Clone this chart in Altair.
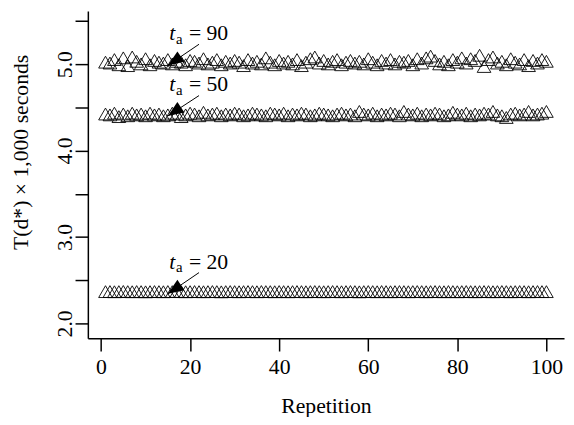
import altair as alt
import pandas as pd

repetition = list(range(1, 101))

s90 = [5.00, 4.99, 5.03, 4.97, 5.05, 4.96, 5.06, 5.01, 4.98, 5.04,
       4.97, 5.02, 5.00, 4.99, 5.03, 4.98, 5.01, 5.00, 4.97, 5.02,
       5.01, 4.99, 5.04, 4.98, 5.00, 5.03, 4.97, 5.01, 4.99, 5.02,
       5.00, 4.96, 5.03, 4.99, 5.01, 4.98, 5.05, 5.00, 4.97, 5.02,
       4.99, 5.01, 4.98, 5.03, 4.96, 5.00, 5.04, 5.06, 4.99, 5.02,
       4.98, 5.01, 5.03, 4.97, 5.00, 5.02, 4.99, 5.01, 4.98, 5.04,
       5.00, 4.97, 5.02, 4.99, 5.03, 4.98, 5.01, 5.00, 5.02, 4.97,
       5.04, 4.99, 5.05, 5.07, 5.02, 4.98, 5.01, 4.97, 5.03, 5.00,
       5.05, 4.99, 5.04, 5.02, 5.08, 4.95, 5.03, 5.06, 4.99, 5.01,
       4.97, 5.04, 5.00, 4.98, 5.03, 4.96, 5.02, 4.99, 5.03, 5.01]

s50 = [4.40, 4.39, 4.41, 4.37, 4.40, 4.38, 4.41, 4.39, 4.40, 4.38,
       4.41, 4.39, 4.40, 4.38, 4.39, 4.41, 4.40, 4.37, 4.39, 4.41,
       4.40, 4.38, 4.42, 4.39, 4.40, 4.41, 4.38, 4.40, 4.39, 4.41,
       4.40, 4.38, 4.39, 4.41, 4.40, 4.39, 4.38, 4.41, 4.40, 4.39,
       4.41, 4.38, 4.40, 4.39, 4.41, 4.40, 4.38, 4.39, 4.41, 4.40,
       4.39, 4.38, 4.40, 4.41, 4.39, 4.40, 4.38, 4.43, 4.40, 4.39,
       4.41, 4.38, 4.40, 4.39, 4.41, 4.40, 4.38, 4.43, 4.40, 4.39,
       4.41, 4.38, 4.40, 4.39, 4.41, 4.40, 4.38, 4.39, 4.42, 4.40,
       4.39, 4.41, 4.38, 4.40, 4.39, 4.41, 4.40, 4.43, 4.39, 4.38,
       4.36, 4.40, 4.41, 4.39, 4.40, 4.43, 4.39, 4.40, 4.41, 4.43]

s20 = [2.345, 2.346, 2.344, 2.345, 2.347, 2.345, 2.344, 2.346, 2.345, 2.343,
       2.345, 2.346, 2.345, 2.344, 2.346, 2.345, 2.347, 2.345, 2.344, 2.345,
       2.346, 2.345, 2.344, 2.345, 2.346, 2.345, 2.343, 2.345, 2.346, 2.345,
       2.344, 2.345, 2.346, 2.345, 2.344, 2.346, 2.345, 2.345, 2.344, 2.346,
       2.345, 2.344, 2.345, 2.346, 2.345, 2.344, 2.345, 2.346, 2.345, 2.344,
       2.345, 2.346, 2.345, 2.344, 2.345, 2.346, 2.345, 2.343, 2.345, 2.346,
       2.345, 2.344, 2.346, 2.345, 2.344, 2.345, 2.346, 2.345, 2.344, 2.345,
       2.346, 2.345, 2.344, 2.345, 2.346, 2.345, 2.344, 2.346, 2.345, 2.344,
       2.345, 2.346, 2.345, 2.344, 2.345, 2.346, 2.345, 2.344, 2.345, 2.346,
       2.345, 2.344, 2.345, 2.346, 2.345, 2.344, 2.345, 2.346, 2.345, 2.345]

# annotations
ann_values = ["90", "50", "20"]
ann_text_x = [15.3, 15.3, 15.3]
ann_text_y = [5.28, 4.685, 2.635]
arrow_x0 = [22.0, 22.0, 22.0]
arrow_y0 = [5.23, 4.636, 2.588]
arrow_x1 = [15.0, 15.0, 15.0]
arrow_y1 = [4.985, 4.40, 2.342]

y_ticks = [2.0, 2.5, 3.0, 3.5, 4.0, 4.5, 5.0, 5.5]
x_ticks = [0, 20, 40, 60, 80, 100]

rows = []
for s, vals in (("90", s90), ("50", s50), ("20", s20)):
    for r, v in zip(repetition, vals):
        rows.append({"rep": r, "T": v, "ta": s})
df = pd.DataFrame(rows)

ann = pd.DataFrame({
    "ta": ann_values,
    "tx": ann_text_x, "ty": ann_text_y,
    "x0": arrow_x0, "y0": arrow_y0, "x1": arrow_x1, "y1": arrow_y1,
})
ann["rest"] = "= " + ann["ta"]

FONT = "Liberation Serif"
xs = alt.Scale(domain=[-2.96, 103.96], nice=False, zero=False)
ys = alt.Scale(domain=[1.829, 5.616], nice=False, zero=False)

tri = "M0,-1L0.866,0.5L-0.866,0.5Z"

points = alt.Chart(df).mark_point(
    shape=tri, size=256, filled=False, stroke="black", strokeWidth=0.9, opacity=1
).encode(
    x=alt.X("rep:Q", scale=xs, axis=alt.Axis(
        values=x_ticks, title="Repetition", grid=False, tickSize=13,
        labelPadding=6, titlePadding=18, format="d")),
    y=alt.Y("T:Q", scale=ys, axis=alt.Axis(
        values=y_ticks, grid=False, tickSize=13,
        labelExpr="datum.value % 1 == 0 ? format(datum.value, '.1f') : ''",
        labelAngle=270, labelAlign="center", labelBaseline="alphabetic", labelPadding=4,
        title="T(d*) × 1,000 seconds", titleAngle=270, titleBaseline="alphabetic",
        titleX=-61, titleY=143, titleAlign="center")),
)

rules = alt.Chart(ann).mark_rule(color="black", strokeWidth=1).encode(
    x="x0:Q", y="y0:Q", x2="x1:Q", y2="y1:Q")

heads = alt.Chart(ann).mark_point(
    shape="M0,0L0.8,2L-0.8,2Z", size=256, filled=True, color="black",
    opacity=1, angle=236, strokeWidth=0
).encode(x="x1:Q", y="y1:Q")

t_txt = alt.Chart(ann).mark_text(
    text="t", font=FONT, fontSize=22, fontStyle="italic", align="left",
    baseline="alphabetic", color="black"
).encode(x="tx:Q", y="ty:Q")

a_txt = alt.Chart(ann).mark_text(
    text="a", font=FONT, fontSize=15, align="left", baseline="alphabetic",
    dx=7, dy=4, color="black"
).encode(x="tx:Q", y="ty:Q")

rest_txt = alt.Chart(ann).mark_text(
    font=FONT, fontSize=22, align="left", baseline="alphabetic",
    dx=20, color="black"
).encode(x="tx:Q", y="ty:Q", text="rest:N")

chart = alt.layer(points, rules, heads, t_txt, a_txt, rest_txt).properties(
    width=483, height=332,
    autosize=alt.AutoSizeParams(type="none"),
    padding={"left": 81, "top": 0, "right": 2, "bottom": 77},
).configure_view(stroke=None).configure_axis(
    domainColor="black", domainWidth=1.5, tickColor="black", tickWidth=1.5,
    labelFont=FONT, labelFontSize=22, labelColor="black",
    titleFont=FONT, titleFontSize=22, titleColor="black", titleFontWeight="normal",
)

chart.save("out.html", embed_options={"renderer": "svg", "actions": False})
